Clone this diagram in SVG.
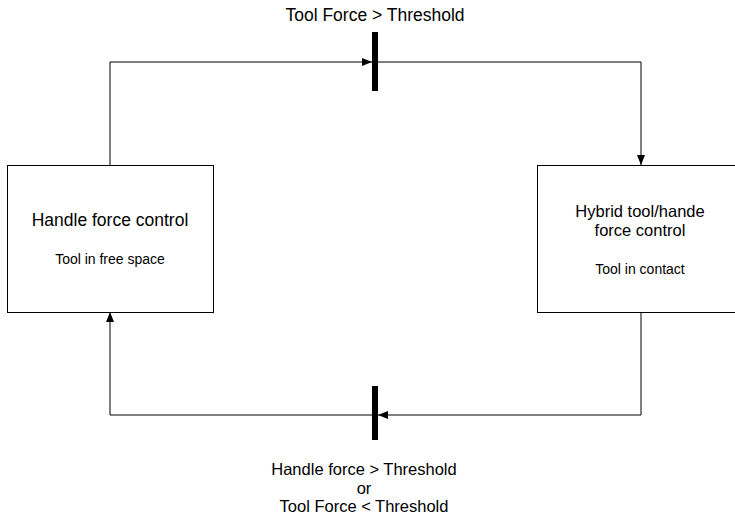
<svg xmlns="http://www.w3.org/2000/svg" width="735" height="526" viewBox="0 0 735 526">
<style>
.box{fill:#fff;stroke:#000;stroke-width:1}
.t{font-family:"Liberation Sans",Arial,sans-serif;fill:#000;text-anchor:middle}
.big{font-size:17.5px}
.multi{font-size:16.5px}
.small{font-size:14px}
.ln{fill:none;stroke:#000;stroke-width:1}
.bar{fill:#000}
</style>
<defs>
<marker id="ah" markerWidth="10" markerHeight="8" refX="10" refY="4" orient="auto" markerUnits="userSpaceOnUse">
<path d="M0,0 L10,4 L0,8 Z" fill="#000"/>
</marker>
</defs>
<rect width="735" height="526" fill="#fff"/>
<g id="connectors">
<path class="ln" d="M110,165 V62 H372" marker-end="url(#ah)"/>
<path class="ln" d="M378,62 H641 V165" marker-end="url(#ah)"/>
<path class="ln" d="M641,312 V415 H378" marker-end="url(#ah)"/>
<path class="ln" d="M372,415 H110 V312" marker-end="url(#ah)"/>
</g>
<g id="bar-top"><rect class="bar" x="372" y="32" width="6" height="59"/></g>
<g id="bar-bottom"><rect class="bar" x="372" y="386" width="6" height="54"/></g>
<g id="label-top"><text class="t big" x="375" y="21">Tool Force &gt; Threshold</text></g>
<g id="label-bottom">
<text class="t multi" x="364" y="475">Handle force &gt; Threshold</text>
<text class="t multi" x="364" y="493.5">or</text>
<text class="t multi" x="364" y="512">Tool Force &lt; Threshold</text>
</g>
<g id="node-handle">
<rect class="box" x="7.5" y="165.5" width="206" height="147"/>
<text class="t big" x="110" y="226">Handle force control</text>
<text class="t small" x="110" y="264">Tool in free space</text>
</g>
<g id="node-hybrid">
<rect class="box" x="537.5" y="165.5" width="206" height="147"/>
<text class="t multi" x="640" y="217">Hybrid tool/hande</text>
<text class="t multi" x="640" y="235.5">force control</text>
<text class="t small" x="640" y="274">Tool in contact</text>
</g>
</svg>
